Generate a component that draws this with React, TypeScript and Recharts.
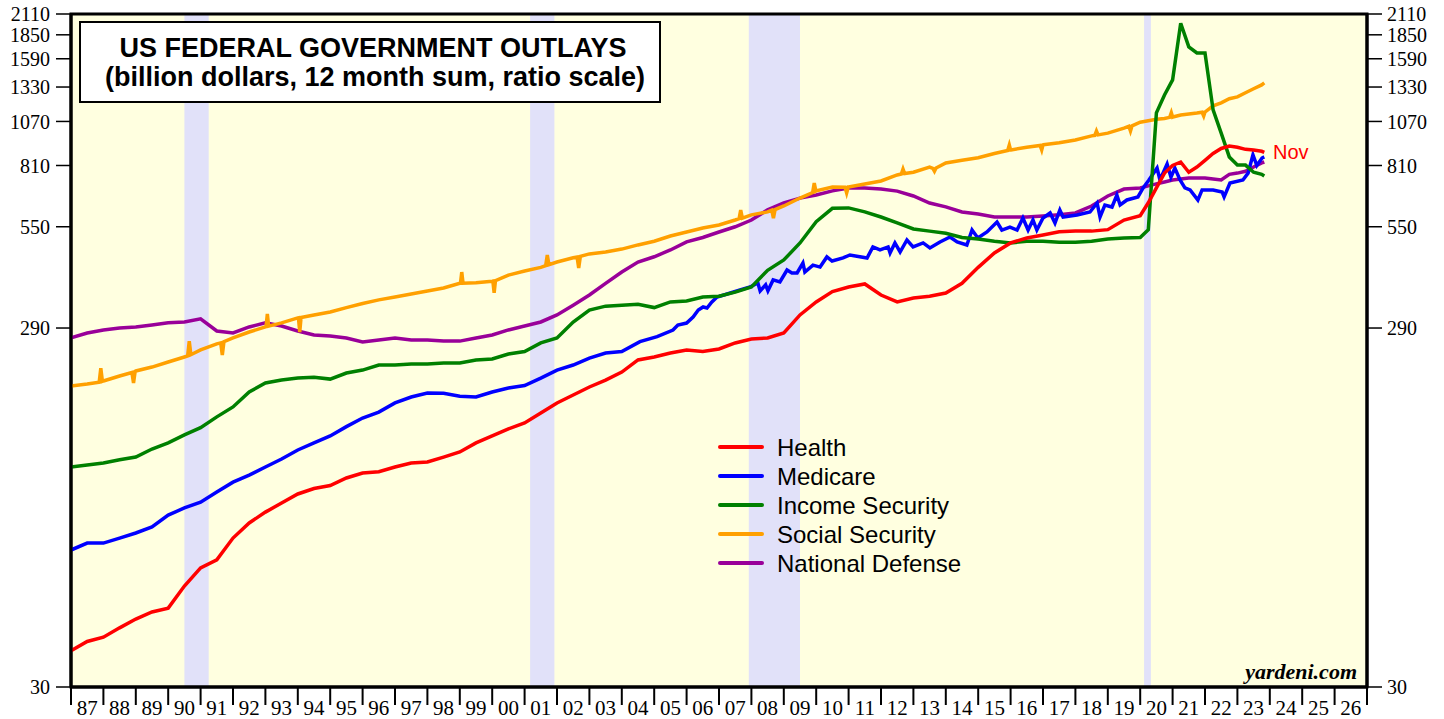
import React from 'react';
import { LineChart, Line, XAxis, YAxis, ReferenceArea } from 'recharts';

// time grid: half-years to 2019, quarters from 2020, last point = Nov 2023
const periods = [
  1987, 1987.5, 1988, 1988.5, 1989, 1989.5, 1990, 1990.5, 1991, 1991.5,
  1992, 1992.5, 1993, 1993.5, 1994, 1994.5, 1995, 1995.5, 1996, 1996.5,
  1997, 1997.5, 1998, 1998.5, 1999, 1999.5, 2000, 2000.5, 2001, 2001.5,
  2002, 2002.5, 2003, 2003.5, 2004, 2004.5, 2005, 2005.5, 2006, 2006.5,
  2007, 2007.5, 2008, 2008.5, 2009, 2009.5, 2010, 2010.5, 2011, 2011.5,
  2012, 2012.5, 2013, 2013.5, 2014, 2014.5, 2015, 2015.5, 2016, 2016.5,
  2017, 2017.5, 2018, 2018.5, 2019, 2019.5,
  2020, 2020.25, 2020.5, 2020.75, 2021, 2021.25, 2021.5, 2021.75,
  2022, 2022.25, 2022.5, 2022.75, 2023, 2023.25, 2023.5, 2023.75, 2023.83,
];

const health = [
  37.7, 40.0, 41.1, 43.6, 46.1, 48.2, 49.4, 56.8, 63.7, 67.0,
  76.9, 84.6, 90.6, 96.0, 101.6, 105.2, 107.2, 112.4, 116.0, 117.0,
  120.5, 123.6, 124.4, 128.3, 132.5, 140.3, 146.6, 153.3, 159.1, 169.5,
  180.6, 189.9, 199.8, 208.7, 219.5, 237.0, 241.5, 247.7, 252.5, 250,
  254.1, 263.9, 270.6, 272.4, 281.1, 315, 342, 365, 375.9, 383.1,
  357.3, 342, 350.6, 354.5, 361.9, 384.6, 425.5, 466.2, 496.5, 512.3,
  522, 533, 535, 535, 540, 573.9,
  590, 640, 703, 772, 810, 828, 776, 802,
  837, 874, 902, 916, 909, 897, 893, 886, 880,
];

// medicare is choppy month to month, so it keeps its own, denser time list
const medicarePeriods = [
  1987, 1987.5, 1988, 1988.5, 1989, 1989.5, 1990, 1990.5, 1991, 1991.5,
  1992, 1992.5, 1993, 1993.5, 1994, 1994.5, 1995, 1995.5, 1996, 1996.5,
  1997, 1997.5, 1998, 1998.5, 1999, 1999.5, 2000, 2000.5, 2001, 2001.5,
  2002, 2002.5, 2003, 2003.5, 2004, 2004.56,
  2005.09, 2005.58, 2005.73, 2006.0, 2006.2, 2006.36, 2006.51, 2006.63, 2006.78, 2006.94,
  2007.65, 2007.96, 2008.2, 2008.27, 2008.44, 2008.51, 2008.67, 2008.88, 2009.1, 2009.25,
  2009.41, 2009.59, 2009.65, 2009.9, 2010.12, 2010.33, 2010.49, 2010.83, 2011.04, 2011.57,
  2011.75, 2011.97, 2012.22, 2012.28, 2012.43, 2012.59, 2012.8, 2012.99, 2013.3, 2013.51,
  2013.82, 2014.13, 2014.35, 2014.65, 2014.81, 2014.99, 2015.27, 2015.58, 2015.73, 2015.98,
  2016.2, 2016.38, 2016.54, 2016.69, 2016.81, 2017.0, 2017.22, 2017.37, 2017.52, 2017.62,
  2018.05, 2018.45, 2018.67, 2018.76, 2018.91, 2019.13, 2019.28, 2019.38, 2019.59, 2019.93,
  2020.09, 2020.27, 2020.52, 2020.61, 2020.83, 2020.95, 2021.07, 2021.23, 2021.38, 2021.54,
  2021.78, 2021.91, 2022.25, 2022.53, 2022.59, 2022.77, 2023.17, 2023.33, 2023.48, 2023.6,
  2023.76, 2023.83,
];

const medicare = [
  71.3, 74.5, 74.5, 76.9, 79.4, 82.5, 88.9, 93.0, 96.5, 102.9,
  109.5, 114.5, 120.5, 126.7, 134.2, 140.3, 146.6, 155.5, 164.2, 170.5,
  180.6, 187.5, 192.3, 192, 188.5, 187.5, 193.6, 198.5, 201.6, 211.3,
  222.3, 229.5, 239.9, 247.7, 250, 266,
  274.5, 286.4, 295.6, 299.3, 310.9, 324.9, 331.3, 329.1, 341.8, 352.8,
  368.8, 375.9, 385.4, 366.5, 381, 367, 393, 388, 418.5, 410.8,
  410.8, 437.4, 413.3, 431.7, 426.3, 454.5, 442.8, 451.5, 460.2, 451.5,
  484, 475, 484, 466, 496.5, 468.9, 505.9, 484, 496.5, 481,
  499.5, 515.5, 499.5, 490, 538.7, 512.4, 532.2, 566.7, 538.7, 549,
  538.7, 581.4, 538.7, 574, 538.7, 581.4, 600, 563, 611.4, 585,
  592.5, 603.7, 639, 585, 631, 623, 672, 631, 651.4, 664,
  703, 739, 797, 739, 818, 753, 797, 739, 703, 694,
  651, 694, 694, 685, 664, 725, 739, 772, 866, 810,
  849, 855,
];

const incomeSecurity = [
  120.5, 122, 123.6, 126.1, 128.3, 135, 140.3, 147.6, 154.5, 165.4,
  176.1, 193.6, 204.9, 208.7, 211.3, 212.6, 210, 218.2, 222.3, 229.5,
  229.5, 231, 231, 232.5, 232.5, 237, 238.4, 246.1, 250, 263.9,
  272.4, 301.3, 324.7, 333, 335, 337, 330, 342, 344.2, 352.8,
  354.5, 363.7, 375.9, 417.5, 445.8, 496.5, 568, 618, 619.6, 604.3,
  585, 563.4, 542.3, 535, 528, 514, 509.3, 502, 496.5, 502,
  502, 499, 499, 502, 509, 512,
  514, 540, 1130, 1265, 1391, 1990, 1714, 1650,
  1650, 1151, 994, 855, 812, 812, 776, 766, 758,
];

const socialSecurity = [
  201, 203.6, 207.5, 214.2, 221, 226.6, 234, 241.5, 252.5, 262.3,
  272.4, 282.8, 292, 299.6, 309.1, 315, 321, 330, 338.6, 346.4,
  352.8, 359.6, 366.5, 373.6, 384.6, 386, 390, 405, 415.8, 425.5,
  440.2, 451.9, 463.3, 469, 477.6, 490.3, 502, 518.7, 532.1, 545.8,
  556.3, 573.9, 593, 604, 627.2, 659.4, 690, 707, 707, 720.9,
  734.5, 763, 776, 802, 823.4, 837, 851, 874, 894, 909,
  922.6, 935, 952, 976.6, 994, 1026,
  1065, 1075, 1085, 1090, 1100, 1114, 1121, 1128,
  1136, 1181, 1204, 1235, 1250, 1283, 1316, 1348, 1365,
];

// one-month blips in the social security sum: [time, value]
const socialSpikes = [
  [1987.87, 206], [1987.92, 225], [1987.97, 207],
  [1988.88, 219], [1988.93, 205], [1988.98, 220.5],
  [1990.6, 243], [1990.65, 267], [1990.7, 245],
  [1991.62, 264], [1991.67, 244.6], [1991.72, 266],
  [1993.02, 292.5], [1993.06, 316.8], [1993.1, 293.5],
  [1994.02, 309.3], [1994.06, 282.8], [1994.1, 309.8],
  [1999.02, 384.6], [1999.06, 413], [1999.1, 384.8],
  [2000.02, 390.2], [2000.06, 362], [2000.1, 391],
  [2001.65, 430], [2001.7, 460], [2001.75, 433],
  [2002.62, 454], [2002.67, 424], [2002.72, 456],
  [2007.62, 579], [2007.67, 611], [2007.72, 581],
  [2008.63, 611], [2008.68, 581], [2008.73, 613],
  [2009.89, 683], [2009.94, 725], [2009.99, 689],
  [2010.89, 706], [2010.94, 681], [2010.99, 707],
  [2012.63, 768], [2012.68, 792], [2012.73, 770],
  [2013.6, 795], [2013.65, 781], [2013.7, 797],
  [2015.91, 891], [2015.96, 922], [2016.01, 894],
  [2016.91, 919], [2016.96, 893], [2017.01, 923],
  [2018.6, 980], [2018.65, 1007], [2018.7, 983],
  [2019.65, 1038], [2019.7, 1007], [2019.75, 1041],
  [2020.91, 1098], [2020.96, 1131], [2021.01, 1101],
  [2021.91, 1134], [2021.96, 1107], [2022.01, 1137],
];

const nationalDefense = [
  272.4, 281, 286.5, 290, 292, 295.7, 299.6, 301.3, 307.3, 284.6,
  281, 292, 299.6, 293.7, 284.6, 277.5, 275.8, 272.3, 265.6, 268.9,
  272.3, 268.9, 268.9, 267, 267, 272.4, 277.5, 286.5, 293.7, 301.3,
  315, 335, 357.3, 384.6, 413.3, 440, 455, 475, 499.7, 514,
  532, 550, 573.9, 612, 639, 659, 672, 690, 703, 703,
  698, 689, 668, 639, 623.5, 604, 596, 585, 585, 585,
  589, 593, 600, 627, 668, 698,
  703, 712, 721, 730, 739, 744, 748, 748,
  748, 744, 739, 766, 772, 781, 802, 823, 828,
];

const recessions = [
  [1990.5, 1991.25],
  [2001.17, 2001.92],
  [2007.92, 2009.5],
  [2020.12, 2020.33],
];

const yTicks = [30, 290, 550, 810, 1070, 1330, 1590, 1850, 2110];
const yearTicks = [
  1987, 1988, 1989, 1990, 1991, 1992, 1993, 1994, 1995, 1996, 1997, 1998, 1999, 2000,
  2001, 2002, 2003, 2004, 2005, 2006, 2007, 2008, 2009, 2010, 2011, 2012, 2013, 2014,
  2015, 2016, 2017, 2018, 2019, 2020, 2021, 2022, 2023, 2024, 2025, 2026, 2027,
];

const legendItems = [
  { name: 'Health', color: '#ff0000' },
  { name: 'Medicare', color: '#0000ff' },
  { name: 'Income Security', color: '#008000' },
  { name: 'Social Security', color: '#ffa000' },
  { name: 'National Defense', color: '#990099' },
];

const rows = periods.map((t, i) => ({
  t,
  health: health[i],
  income: incomeSecurity[i],
  defense: nationalDefense[i],
}));

const medicareRows = medicarePeriods.map((t, i) => ({ t, medicare: medicare[i] }));

const socialRows = [
  ...periods.map((t, i) => ({ t, social: socialSecurity[i] })),
  ...socialSpikes.map(([t, v]) => ({ t, social: v })),
].sort((a, b) => a.t - b.t);

const SERIF = "'Liberation Serif', 'Times New Roman', serif";
const SANS = "'Liberation Sans', Arial, sans-serif";
const HALF_YEAR = (1367 - 71) / 40 / 2;

const YearTick = (props: any) => {
  const { x, y, payload } = props;
  if (payload.value >= 2027) return <g />;
  const label = String(payload.value % 100).padStart(2, '0');
  return (
    <text x={x + HALF_YEAR} y={y - 5} dy="0.71em" textAnchor="middle" fontSize={21} fontFamily={SERIF} fill="#000">
      {label}
    </text>
  );
};

const yTick = { fill: '#000', fontSize: 20, fontFamily: SERIF };

export default function App() {
  return (
    <div style={{ position: 'absolute', left: 0, top: 0, width: 1444, height: 719, background: '#fff' }}>
      <LineChart width={1444} height={719} data={rows} margin={{ top: 14, right: 0, bottom: 0, left: 0 }}>
        <XAxis
          dataKey="t"
          type="number"
          domain={[1987, 2027]}
          ticks={yearTicks}
          interval={0}
          allowDataOverflow
          height={32}
          tickSize={18}
          tickMargin={0}
          tick={<YearTick />}
          tickLine={{ stroke: '#000', strokeWidth: 2 }}
          axisLine={{ stroke: '#000', strokeWidth: 3 }}
        />
        <YAxis
          yAxisId="left"
          type="number"
          scale="log"
          domain={[30, 2110]}
          ticks={yTicks}
          interval={0}
          allowDataOverflow
          width={71}
          tickSize={15}
          tickMargin={6}
          tick={yTick}
          tickLine={{ stroke: '#000', strokeWidth: 1.5 }}
          axisLine={{ stroke: '#000', strokeWidth: 3 }}
        />
        <YAxis
          yAxisId="right"
          orientation="right"
          type="number"
          scale="log"
          domain={[30, 2110]}
          ticks={yTicks}
          interval={0}
          allowDataOverflow
          width={77}
          tickSize={15}
          tickMargin={5}
          tick={yTick}
          tickLine={{ stroke: '#000', strokeWidth: 1.5 }}
          axisLine={{ stroke: '#000', strokeWidth: 3 }}
        />
        <ReferenceArea yAxisId="left" x1={1987} x2={2027} y1={30} y2={2110} fill="#ffffe0" fillOpacity={1} stroke="none" />
        {recessions.map(([a, b]) => (
          <ReferenceArea key={a} yAxisId="left" x1={a} x2={b} y1={30} y2={2110} fill="#e1e1f9" fillOpacity={1} stroke="none" />
        ))}
        <Line yAxisId="left" dataKey="defense" stroke="#990099" strokeWidth={3.5} dot={false} isAnimationActive={false} />
        <Line yAxisId="left" data={socialRows} dataKey="social" stroke="#ffa000" strokeWidth={3.5} dot={false} isAnimationActive={false} />
        <Line yAxisId="left" data={medicareRows} dataKey="medicare" stroke="#0000ff" strokeWidth={3.5} dot={false} isAnimationActive={false} />
        <Line yAxisId="left" dataKey="income" stroke="#008000" strokeWidth={3.5} dot={false} isAnimationActive={false} />
        <Line yAxisId="left" dataKey="health" stroke="#ff0000" strokeWidth={3.5} dot={false} isAnimationActive={false} />
        <ReferenceArea yAxisId="left" x1={1987} x2={2027} y1={30} y2={2110} fill="none" stroke="#000" strokeWidth={3} ifOverflow="visible" />
      </LineChart>

      <svg width={1444} height={719} style={{ position: 'absolute', left: 0, top: 0, pointerEvents: 'none' }}>
        <rect x={80} y={22} width={580} height={80} fill="#fff" stroke="#000" strokeWidth={2} />
        <text x={373} y={57} textAnchor="middle" fontSize={27} fontWeight="bold" fontFamily={SANS} fill="#000">
          US FEDERAL GOVERNMENT OUTLAYS
        </text>
        <text x={375} y={86} textAnchor="middle" fontSize={27} fontWeight="bold" fontFamily={SANS} fill="#000">
          (billion dollars, 12 month sum, ratio scale)
        </text>
        {legendItems.map((item, i) => (
          <g key={item.name}>
            <line x1={720} x2={762} y1={447 + i * 29} y2={447 + i * 29} stroke={item.color} strokeWidth={4} strokeLinecap="round" />
            <text x={777} y={455.5 + i * 29} fontSize={24} fontFamily={SANS} fill="#000">
              {item.name}
            </text>
          </g>
        ))}
        <text x={1273} y={159} fontSize={20} fontFamily={SANS} fill="#ff0000">
          Nov
        </text>
        <text x={1357} y={679} textAnchor="end" fontSize={22} fontWeight="bold" fontStyle="italic" fontFamily={SERIF} fill="#000">
          yardeni.com
        </text>
      </svg>
    </div>
  );
}
